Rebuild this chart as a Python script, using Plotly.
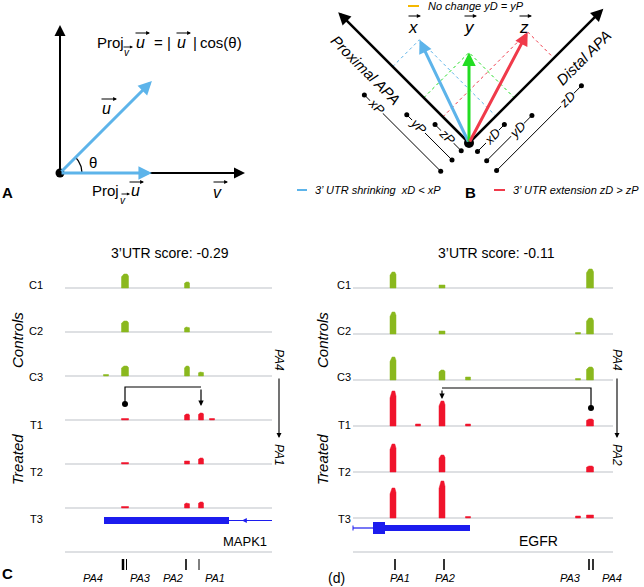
import math
import plotly.graph_objects as go

W, H = 644, 587
FONT = "Liberation Sans, Arial, Helvetica, sans-serif"

# ---------------- data ----------------
# Panel A: projection of u on v
u_length = 130
theta_deg = 45

# Panel B: proximal (P) / distal (D) components of the example vectors
vector_names = ["x", "y", "z"]
vector_P = [108, 64, 37]
vector_D = [38, 64, 120]

# Panel C: MAPK1 coverage
sample_labels = ["C1", "C2", "C3", "T1", "T2", "T3"]
mapk1_title = "3’UTR score: -0.29"
mapk1_peak_pos = [106, 125, 187, 201, 212]
mapk1_peak_width = [5, 7, 5, 5, 5]
mapk1_C1 = [0, 14, 6, 0, 0]
mapk1_C2 = [0, 11, 5, 0, 0]
mapk1_C3 = [1, 10, 10, 4, 0]
mapk1_T1 = [0, 1, 6, 7, 1]
mapk1_T2 = [0, 1, 3, 6, 0]
mapk1_T3 = [0, 1, 5, 6, 0]
mapk1_span = [65, 272]
mapk1_exon = [104, 229]
mapk1_pa_ticks = [123, 126.5, 186, 199]
mapk1_pa_names = ["PA4", "PA3", "PA2", "PA1"]
mapk1_pa_label_pos = [93, 140, 173, 215]

# Panel D: EGFR coverage
egfr_title = "3’UTR score: -0.11"
egfr_peak_pos = [393, 418, 442, 468, 578, 590]
egfr_peak_width = [6, 5, 6, 5, 5, 7]
egfr_C1 = [16, 0, 3, 0, 0, 19]
egfr_C2 = [22, 0, 3, 0, 1, 16]
egfr_C3 = [23, 0, 10, 3, 1, 13]
egfr_T1 = [35, 2, 25, 2, 0, 7]
egfr_T2 = [28, 0, 17, 0, 0, 6]
egfr_T3 = [30, 0, 37, 1, 2, 3]
egfr_span = [353, 613]
egfr_exon_big = [373, 385]
egfr_exon = [385, 470]
egfr_pa_ticks = [395, 444, 589, 593]
egfr_pa_names = ["PA1", "PA2", "PA3", "PA4"]
egfr_pa_label_pos = [400, 445, 570, 612]

# ---------------- styles ----------------
BLUE_A = "#5db4ea"
VEC_COLORS = ["#5db4ea", "#22dd22", "#f03a4a"]
GREEN = "#8ab81e"
RED = "#f0142c"
GENE = "#1c1cee"
GRAY = "#d3d6da"


def px(x):
    return x / W


def py(y):
    return 1 - y / H


fig = go.Figure()
ann = []
shapes = []


def text(t, x, y, size=12, color="black", xa="center", ya="middle", angle=0,
         italic=False, bold=False, bg=None):
    if italic:
        t = f"<i>{t}</i>"
    if bold:
        t = f"<b>{t}</b>"
    d = dict(text=t, x=px(x), y=py(y), xref="paper", yref="paper", showarrow=False,
             font=dict(family=FONT, size=size, color=color), xanchor=xa, yanchor=ya,
             textangle=angle, borderpad=0)
    if bg:
        d["bgcolor"] = bg
    ann.append(d)


def parrow(x_tip, y_tip, x_tail, y_tail, color="black", width=1.2, head=2, size=1.0):
    ann.append(dict(x=px(x_tip), y=py(y_tip), xref="paper", yref="paper",
                    ax=x_tail - x_tip, ay=y_tail - y_tip, axref="pixel", ayref="pixel",
                    showarrow=True, arrowhead=head, arrowsize=size, arrowwidth=width,
                    arrowcolor=color, text="", standoff=0))


def darrow(xr, yr, x_tip, y_tip, x_tail, y_tail, color="black", width=2, head=2, size=1.0):
    ann.append(dict(x=x_tip, y=y_tip, xref=xr, yref=yr, ax=x_tail, ay=y_tail,
                    axref=xr, ayref=yr, showarrow=True, arrowhead=head, arrowsize=size,
                    arrowwidth=width, arrowcolor=color, text="", standoff=0))


def line(xs, ys, xr, yr, color="black", width=1, dash="solid", mode="lines", msize=5):
    fig.add_trace(go.Scatter(x=xs, y=ys, mode=mode, xaxis=xr, yaxis=yr,
                             line=dict(color=color, width=width, dash=dash),
                             marker=dict(color=color, size=msize),
                             hoverinfo="skip", showlegend=False))


# ================= Panel A =================
th = math.radians(theta_deg)
ux, uy = u_length * math.cos(th), u_length * math.sin(th)
arc_n = 20
arc_r = 22
line([arc_r * math.cos(th * k / arc_n) for k in range(arc_n + 1)],
     [arc_r * math.sin(th * k / arc_n) for k in range(arc_n + 1)], "x", "y", width=1.3)
darrow("x", "y", 0, 148, 0, 0, width=2, size=1.1)
darrow("x", "y", 185, 0, 0, 0, width=2, size=1.1)
darrow("x", "y", ux, uy, 0, 0, color=BLUE_A, width=3, size=0.9)
darrow("x", "y", ux, 0, 0, 0, color=BLUE_A, width=3, size=0.9)
fig.add_trace(go.Scatter(x=[0], y=[0], mode="markers", xaxis="x", yaxis="y",
                         marker=dict(color="black", size=9), hoverinfo="skip", showlegend=False))

# formula
text("Proj", 96, 42, 15, xa="left")
text("v", 127, 53, 10, italic=True)
parrow(133, 47, 122, 47, width=0.9, size=0.7)
text("u", 140, 42, 16, italic=True)
parrow(150, 33, 134, 33, width=1.1, size=0.7)
text("=", 158, 42, 15)
text("|", 169, 42, 15)
text("u", 181, 42, 16, italic=True)
parrow(191, 33, 175, 33, width=1.1, size=0.7)
text("|", 195, 42, 15)
text("cos(θ)", 199, 42, 15, xa="left")
# labels
text("u", 106, 108, 16, italic=True)
parrow(117, 99, 100, 99, width=1.1, size=0.7)
text("θ", 93, 162, 15)
text("Proj", 91, 191, 15, xa="left")
text("v", 123, 200, 10, italic=True)
parrow(130, 194, 120, 194, width=0.9, size=0.7)
text("u", 135, 191, 16, italic=True)
parrow(144, 182, 128, 182, width=1.1, size=0.7)
text("v", 218, 193, 16, italic=True)
parrow(228, 182, 212, 182, width=1.1, size=0.7)
text("A", 7, 193, 15, bold=True)

# ================= Panel B =================
S2 = math.sqrt(2)


def rot(P, D):
    return (D - P) / S2, (D + P) / S2


AX_LEN_P, AX_LEN_D = 185, 190
# dotted projections
for P, D, c in zip(vector_P, vector_D, VEC_COLORS):
    tx, ty = rot(P, D)
    lx, ly = rot(P, 0)
    rx, ry = rot(0, D)
    line([lx, tx, rx], [ly, ty, ry], "x2", "y2", color=c, width=1, dash="dot")

# dimension lines
left_off = [40, 24, 11]
right_off = [12, 25, 39]
for name, P, D, lo, ro in zip(vector_names, vector_P, vector_D, left_off, right_off):
    # proximal side
    sx, sy = -lo / S2, -lo / S2
    ex, ey = sx - P / S2, sy + P / S2
    line([sx, ex], [sy, ey], "x2", "y2", width=1, mode="lines+markers", msize=5)
    t = max(P - 17, P / 2)
    lxp, lyp = sx - t / S2, sy + t / S2
    ann.append(dict(text=f"<i>{name}P</i>", x=lxp, y=lyp, xref="x2", yref="y2",
                    showarrow=False, textangle=45, bgcolor="white", borderpad=0,
                    font=dict(family=FONT, size=13, color="black")))
    # distal side
    sx, sy = ro / S2, -ro / S2
    ex, ey = sx + D / S2, sy + D / S2
    line([sx, ex], [sy, ey], "x2", "y2", width=1, mode="lines+markers", msize=5)
    t = max(D - 20, D / 2 + 2)
    lxd, lyd = sx + t / S2, sy + t / S2
    ann.append(dict(text=f"<i>{name}D</i>", x=lxd, y=lyd, xref="x2", yref="y2",
                    showarrow=False, textangle=-45, bgcolor="white", borderpad=0,
                    font=dict(family=FONT, size=13, color="black")))

# axes
px_tip = rot(AX_LEN_P, 0)
dx_tip = rot(0, AX_LEN_D)
darrow("x2", "y2", px_tip[0], px_tip[1], 0, 0, width=2.5, size=1.0)
darrow("x2", "y2", dx_tip[0], dx_tip[1], 0, 0, width=2.5, size=1.0)
# vectors
for P, D, c in zip(vector_P, vector_D, VEC_COLORS):
    tx, ty = rot(P, D)
    darrow("x2", "y2", tx, ty, 0, 0, color=c, width=3, size=0.9)
fig.add_trace(go.Scatter(x=[0], y=[0], mode="markers", xaxis="x2", yaxis="y2",
                         marker=dict(color="black", size=10), hoverinfo="skip", showlegend=False))

# axis titles
text("Proximal APA", 365, 70, 15, angle=45, italic=True)
text("Distal APA", 584, 58, 15, angle=-45, italic=True)
# vector labels
for nm, xc in zip(vector_names, [413, 469, 524]):
    text(nm, xc, 27, 17, italic=True)
    parrow(xc + 8, 16, xc - 6, 16, width=1.2, size=0.7)
# legend
shapes.append(dict(type="line", xref="paper", yref="paper", x0=px(408), x1=px(419),
                   y0=py(6), y1=py(6), line=dict(color="#f5b800", width=2)))
text("No change yD = yP", 427, 6, 11, xa="left", italic=True)
shapes.append(dict(type="line", xref="paper", yref="paper", x0=px(297), x1=px(307),
                   y0=py(190), y1=py(190), line=dict(color=VEC_COLORS[0], width=2)))
text("3’ UTR shrinking&nbsp; xD &lt; xP", 314, 190, 11, xa="left", italic=True)
shapes.append(dict(type="line", xref="paper", yref="paper", x0=px(494), x1=px(505),
                   y0=py(190), y1=py(190), line=dict(color=VEC_COLORS[2], width=2)))
text("3’ UTR extension zD &gt; zP", 512, 190, 11, xa="left", italic=True)
text("B", 470, 193, 15, bold=True)


# ================= Panels C & D =================
def peak_polys(pos, widths, cov, base):
    xs, ys = [], []
    for p, w, h in zip(pos, widths, cov):
        if h <= 0:
            continue
        h = max(h, 1.5)
        l, r = p - w / 2, p + w / 2
        if h <= 3:
            xs += [l, l, r, r, l, None]
            ys += [base, base + h, base + h, base, base, None]
        else:
            xs += [l, l, l + w * 0.35, r - w * 0.2, r, r, l, None]
            ys += [base, base + 0.8 * h, base + h, base + h, base + 0.85 * h, base, base, None]
    return xs, ys


def coverage_panel(xr, yr, span, pos, widths, tracks, spacing):
    for i, cov in enumerate(tracks):
        base = -spacing * i
        line(span, [base, base], xr, yr, color=GRAY, width=1.5)
    for i, cov in enumerate(tracks):
        base = -spacing * i
        xs, ys = peak_polys(pos, widths, cov, base)
        col = GREEN if i < 3 else RED
        fig.add_trace(go.Scatter(x=xs, y=ys, mode="lines", fill="toself", fillcolor=col,
                                 line=dict(width=0.5, color=col), xaxis=xr, yaxis=yr,
                                 hoverinfo="skip", showlegend=False))
    line(span, [-264, -264], xr, yr, color=GRAY, width=1.5)


mapk1_tracks = [mapk1_C1, mapk1_C2, mapk1_C3, mapk1_T1, mapk1_T2, mapk1_T3]
egfr_tracks = [egfr_C1, egfr_C2, egfr_C3, egfr_T1, egfr_T2, egfr_T3]
coverage_panel("x3", "y3", mapk1_span, mapk1_peak_pos, mapk1_peak_width, mapk1_tracks, 44)
coverage_panel("x4", "y4", egfr_span, egfr_peak_pos, egfr_peak_width, egfr_tracks, 46)

# gene models
gy_c = -232.5
shapes.append(dict(type="line", xref="x3", yref="y3", x0=mapk1_exon[1], x1=mapk1_span[1],
                   y0=gy_c, y1=gy_c, line=dict(color=GENE, width=1.2)))
shapes.append(dict(type="rect", xref="x3", yref="y3", x0=mapk1_exon[0], x1=mapk1_exon[1],
                   y0=gy_c - 3.5, y1=gy_c + 3.5, fillcolor=GENE, line=dict(width=0)))
chev_x = [mapk1_exon[0] + 31 + 29 * k for k in range(4)]
fig.add_trace(go.Scatter(x=chev_x, y=[gy_c] * 4, mode="text", text=["‹"] * 4,
                         textfont=dict(color="white", size=11, family=FONT),
                         xaxis="x3", yaxis="y3", hoverinfo="skip", showlegend=False))
darrow("x3", "y3", mapk1_exon[1] + 13, gy_c, mapk1_exon[1] + 22, gy_c, color=GENE,
       width=1.2, head=2, size=0.8)

gy_d = -240
shapes.append(dict(type="line", xref="x4", yref="y4", x0=egfr_span[0], x1=egfr_exon_big[0],
                   y0=gy_d, y1=gy_d, line=dict(color=GENE, width=1.2)))
shapes.append(dict(type="line", xref="x4", yref="y4", x0=egfr_span[0], x1=egfr_span[0],
                   y0=gy_d - 2.5, y1=gy_d + 2.5, line=dict(color=GENE, width=1)))
shapes.append(dict(type="rect", xref="x4", yref="y4", x0=egfr_exon_big[0], x1=egfr_exon_big[1],
                   y0=gy_d - 6, y1=gy_d + 6, fillcolor=GENE, line=dict(width=0)))
shapes.append(dict(type="rect", xref="x4", yref="y4", x0=egfr_exon[0], x1=egfr_exon[1],
                   y0=gy_d - 3, y1=gy_d + 3, fillcolor=GENE, line=dict(width=0)))

# PA ticks
for xr, yr, ticks, wds in [("x3", "y3", mapk1_pa_ticks, [2.5, 1, 1.6, 1]),
                           ("x4", "y4", egfr_pa_ticks, [1.6, 1.6, 1.6, 1.6])]:
    for tx, w in zip(ticks, wds):
        shapes.append(dict(type="line", xref=xr, yref=yr, x0=tx, x1=tx, y0=-271, y1=-282,
                           line=dict(color="black", width=w)))
for nm, xp in zip(mapk1_pa_names, mapk1_pa_label_pos):
    text(nm, xp, 578, 11, italic=True)
for nm, xp in zip(egfr_pa_names, egfr_pa_label_pos):
    text(nm, xp, 578, 11, italic=True)

# connectors (distal -> proximal usage change)
src, dst = mapk1_peak_pos[1], mapk1_peak_pos[3]
line([src, src, dst], [-116, -99, -99], "x3", "y3", width=1.2)
fig.add_trace(go.Scatter(x=[src], y=[-116], mode="markers", xaxis="x3", yaxis="y3",
                         marker=dict(color="black", size=6), hoverinfo="skip", showlegend=False))
darrow("x3", "y3", dst, -118, dst, -100, width=1.2, size=0.9)
src, dst = egfr_peak_pos[5] + 1, egfr_peak_pos[2]
line([src, src, dst], [-120, -100, -100], "x4", "y4", width=1.2)
fig.add_trace(go.Scatter(x=[src], y=[-120], mode="markers", xaxis="x4", yaxis="y4",
                         marker=dict(color="black", size=6), hoverinfo="skip", showlegend=False))
darrow("x4", "y4", dst, -111, dst, -101, width=1.2, size=0.9)

# titles & labels
text(mapk1_title, 170, 253, 14)
text(egfr_title, 496, 253, 14)
label_y = [285, 331, 377, 425, 472, 519]
for nm, yy in zip(sample_labels, label_y):
    text(nm, 44, yy, 11, xa="right")
    text(nm, 352, yy, 11, xa="right")
for xc in [17, 322]:
    text("Controls", xc, 340, 15, angle=-90, italic=True)
    text("Treated", xc, 460, 15, angle=-90, italic=True)
text("MAPK1", 268, 541, 13, xa="right")
text("EGFR", 538, 541, 14)
# right-side brackets
for xc, end_lbl in [(279, "PA1"), (617, "PA2")]:
    text("PA4", xc, 360, 12, angle=90, italic=True)
    parrow(xc, 438, xc, 377, width=1.1, size=0.9)
    text(end_lbl, xc, 455, 12, angle=90, italic=True)
text("C", 7, 573, 15, bold=True)
text("(d)", 336, 578, 14)

ax_common = dict(visible=False, fixedrange=True, showgrid=False, zeroline=False)
fig.update_layout(
    width=W, height=H, margin=dict(l=0, r=0, t=0, b=0),
    paper_bgcolor="white", plot_bgcolor="white",
    showlegend=False,
    xaxis=dict(domain=[px(30), px(260)], range=[-30, 200], anchor="y", **ax_common),
    yaxis=dict(domain=[py(200), py(10)], range=[-27, 163], anchor="x", **ax_common),
    xaxis2=dict(domain=[px(285), 1], range=[-184, 175], anchor="y2", **ax_common),
    yaxis2=dict(domain=[py(200), 1], range=[-57, 143], anchor="x2", **ax_common),
    xaxis3=dict(domain=[px(60), px(290)], range=[60, 290], anchor="y3", **ax_common),
    yaxis3=dict(domain=[0, py(262)], range=[-299, 26], anchor="x3", **ax_common),
    xaxis4=dict(domain=[px(300), 1], range=[300, 644], anchor="y4", **ax_common),
    yaxis4=dict(domain=[0, py(262)], range=[-299, 26], anchor="x4", **ax_common),
    annotations=ann, shapes=shapes,
    font=dict(family=FONT),
)
fig.write_html(
    "out.html",
    config={"displayModeBar": False},
    post_script="document.body.style.margin='0';document.body.style.overflow='hidden';",
)
